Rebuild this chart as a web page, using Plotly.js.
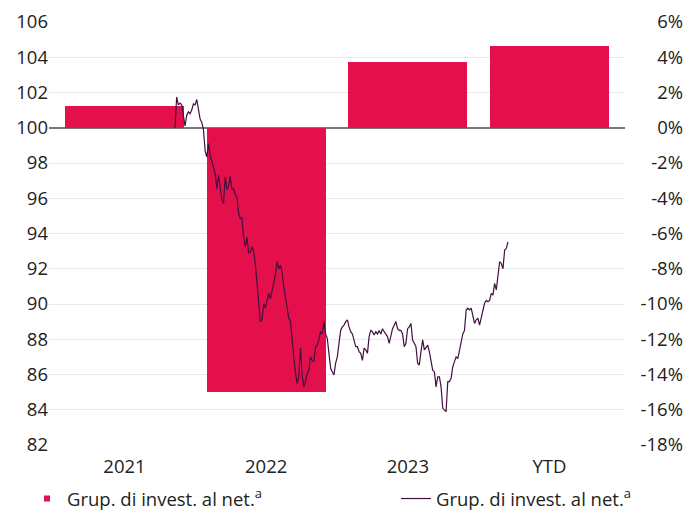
<!DOCTYPE html>
<html>
<head>
<meta charset="utf-8">
<script src="https://cdn.plot.ly/plotly-3.0.1.min.js"></script>
<style>html,body{margin:0;padding:0;background:#fff;}#chart{width:684px;height:513px;}</style>
</head>
<body>
<div id="chart"></div>
<script>
// Categories and annual returns (%), right axis
const categories = ['2021', '2022', '2023', 'YTD'];
const barValues = [1.25, -15.0, 3.75, 4.65];

// Indexed performance series (start = 100), left axis
const lineValues = [100.0, 101.74, 101.3, 101.4, 101.3, 100.6, 100.1, 100.7, 100.9, 100.8, 101.0, 101.35, 101.3, 101.6, 101.1, 100.5, 100.3, 99.9, 98.7, 98.35, 99.1, 98.45, 98.1, 97.7, 97.4, 96.55, 97.3, 96.65, 95.9, 95.7, 97.2, 96.5, 96.65, 97.25, 96.5, 96.55, 96.2, 96.1, 95.15, 94.85, 94.9, 93.8, 93.25, 93.8, 92.9, 92.95, 93.25, 92.95, 92.3, 91.2, 90.2, 89.0, 89.1, 90.0, 89.77, 90.2, 90.6, 90.3, 90.7, 91.17, 91.65, 92.4, 92.0, 92.2, 91.8, 90.98, 90.4, 89.85, 89.2, 89.0, 87.8, 87.0, 86.07, 85.5, 85.9, 87.5, 85.9, 85.3, 85.6, 86.07, 86.25, 87.0, 86.8, 86.73, 87.58, 87.67, 87.96, 88.43, 88.3, 89.0, 88.3, 88.05, 87.2, 86.35, 86.16, 85.97, 86.64, 87.0, 87.77, 88.5, 88.7, 88.8, 89.0, 89.1, 88.7, 88.43, 88.3, 87.86, 87.58, 87.58, 87.3, 87.2, 86.8, 87.5, 87.4, 87.2, 88.15, 88.5, 88.43, 88.24, 88.43, 88.3, 88.5, 88.3, 88.6, 88.43, 88.3, 88.15, 87.77, 88.15, 88.6, 88.8, 89.0, 88.6, 88.5, 88.5, 88.3, 87.58, 87.77, 88.6, 88.7, 88.9, 87.96, 87.77, 87.58, 86.64, 86.54, 87.3, 87.96, 87.4, 87.58, 87.67, 87.3, 86.73, 86.25, 86.16, 85.3, 85.87, 85.87, 85.3, 84.08, 83.99, 83.89, 85.6, 85.6, 85.78, 86.44, 86.73, 87.0, 86.9, 87.4, 87.77, 88.3, 88.5, 89.66, 89.76, 89.66, 89.76, 89.28, 88.9, 89.1, 89.2, 88.8, 89.28, 89.56, 90.04, 90.2, 90.13, 90.2, 90.6, 90.5, 91.17, 90.8, 91.65, 92.4, 92.3, 92.0, 93.06, 93.16, 93.53];

const indexTicks = [82, 84, 86, 88, 90, 92, 94, 96, 98, 100, 102, 104, 106];
const pctTicks = [-18, -16, -14, -12, -10, -8, -6, -4, -2, 0, 2, 4, 6];
const pctLabels = ['-18%', '-16%', '-14%', '-12%', '-10%', '-8%', '-6%', '-4%', '-2%', '0%', '2%', '4%', '6%'];
const seriesName = 'Grup. di invest. al net.<sup>a</sup>';

const W = 684, H = 513;
const plotL = 49, plotR = 625, marginR = 0;
const domainEnd = (plotR - plotL) / (W - plotL - marginR);

// category axis padding so bar centres fall where the reference has them
const catPad = 0.033;
const xrange = [-0.5 - catPad, 3.5 + catPad];

// line horizontal placement within the plot (hidden observation axis)
const n = lineValues.length;
const lineStartPx = 175, lineEndPx = 508;
const ppu = (lineEndPx - lineStartPx) / (n - 1);
const obs = lineValues.map((_, i) => i);
const x2range = [-(lineStartPx - plotL) / ppu, (n - 1) + (plotR - lineEndPx) / ppu];

const red = '#E3104B';
const purple = '#431040';
const font = 'Open Sans, Noto Sans, sans-serif';
const fs = 18.5;
const txt = '#222222';

const traces = [
  {
    type: 'bar', x: categories, y: barValues, xaxis: 'x', yaxis: 'y',
    marker: {color: red, line: {width: 0}}, width: 0.84,
    name: seriesName, showlegend: false, hoverinfo: 'skip'
  },
  {
    type: 'scatter', mode: 'markers', x: [null], y: [null], xaxis: 'x', yaxis: 'y',
    marker: {symbol: 'square', size: 6, color: red},
    name: seriesName, showlegend: true, legend: 'legend'
  },
  {
    type: 'scatter', mode: 'lines', x: obs, y: lineValues, xaxis: 'x2', yaxis: 'y2',
    line: {color: purple, width: 1.2},
    name: seriesName, showlegend: true, legend: 'legend2'
  }
];

const legendCommon = {
  orientation: 'h', xref: 'container', yref: 'container',
  xanchor: 'left', yanchor: 'top',
  font: {family: font, size: fs, color: txt},
  bgcolor: 'rgba(0,0,0,0)', borderwidth: 0
};

const layout = {
  width: W, height: H,
  margin: {l: plotL, r: marginR, t: 22, b: 68},
  paper_bgcolor: '#ffffff', plot_bgcolor: '#ffffff',
  font: {family: font, size: fs, color: txt},
  showlegend: true,
  bargap: 0,
  xaxis: {
    domain: [0, domainEnd], type: 'category', range: xrange,
    showgrid: false, zeroline: false, showline: false, ticks: '',
    ticklabelstandoff: 8,
    tickfont: {family: font, size: fs, color: txt}, fixedrange: true
  },
  xaxis2: {
    overlaying: 'x', range: x2range, visible: false, showgrid: false, zeroline: false
  },
  yaxis: {
    range: [-18, 6], tickvals: pctTicks, ticktext: pctLabels,
    anchor: 'free', position: 1, side: 'left',
    showgrid: true, gridcolor: '#e9e9e9', gridwidth: 1,
    zeroline: true, zerolinecolor: '#7a7a7a', zerolinewidth: 1.5,
    showline: false, ticks: '', ticklabelstandoff: 1,
    tickfont: {family: font, size: fs, color: txt}
  },
  yaxis2: {
    overlaying: 'y', side: 'left', anchor: 'x', range: [82, 106],
    tickvals: indexTicks, showgrid: false, zeroline: false, showline: false, ticks: '',
    tickfont: {family: font, size: fs, color: txt}
  },
  legend: Object.assign({}, legendCommon, {x: 27 / W, y: (H - 480) / H}),
  legend2: Object.assign({}, legendCommon, {x: 396 / W, y: (H - 480) / H})
};

Plotly.newPlot('chart', traces, layout, {staticPlot: true, displayModeBar: false});
</script>
</body>
</html>
